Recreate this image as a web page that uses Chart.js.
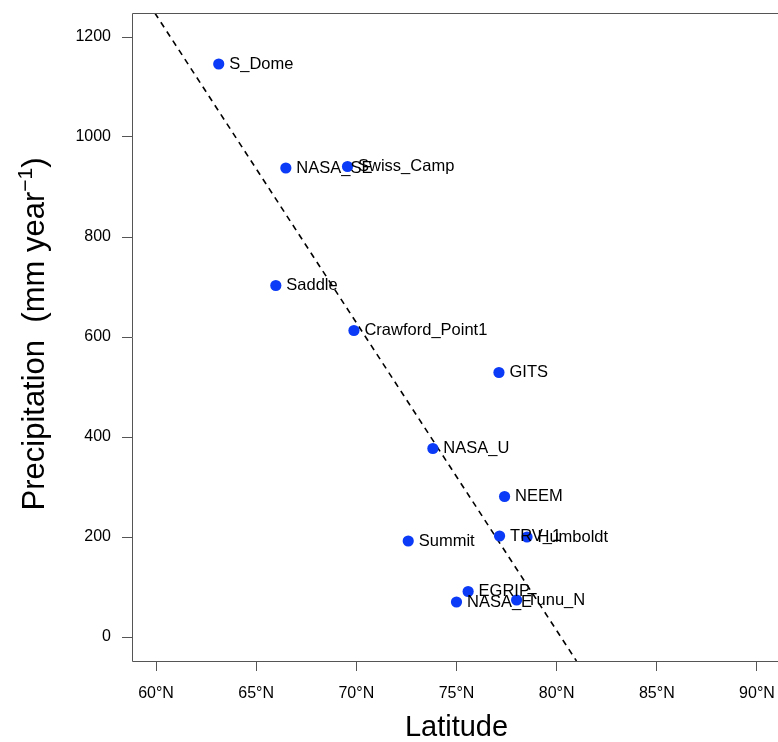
<!DOCTYPE html>
<html><head><meta charset="utf-8">
<script src="https://cdn.jsdelivr.net/npm/chart.js@4"></script>
<style>
html,body{margin:0;padding:0;overflow:hidden;background:#fff;width:778px;height:742px}
#wrap{position:absolute;left:0;top:0;width:800px;height:742px}
</style>
</head><body><div id="wrap"><canvas id="c" width="800" height="742"></canvas></div>
<script>
const stations = ["S_Dome","NASA_SE","Swiss_Camp","Saddle","Crawford_Point1","GITS","NASA_U","NEEM","Summit","TRV_1","Humboldt","EGRIP","NASA_E","Tunu_N"];
const latitudes = [63.13, 66.48, 69.56, 65.98, 69.88, 77.12, 73.82, 77.40, 72.59, 77.15, 78.52, 75.58, 75.00, 78.00];
const precipitation = [1146, 938, 941, 703, 613, 529, 377, 281, 192, 202, 200, 91, 70, 74];
const fitLatitudes = [59.94, 80.99];
const fitPrecipitation = [1248, -48];
const xTickValues = [60, 65, 70, 75, 80, 85, 90];
const yTickValues = [0, 200, 400, 600, 800, 1000, 1200];

const FONT = "'Liberation Sans', Arial, Helvetica, sans-serif";
const AXIS_GREY = '#555555';

const framePlugin = {
  id: 'frame',
  afterDraw(chart) {
    const {ctx, chartArea: a} = chart;
    ctx.save();
    ctx.strokeStyle = AXIS_GREY;
    ctx.lineWidth = 1;
    const l = Math.round(a.left) + 0.5, t = Math.round(a.top) + 0.5;
    const r = Math.round(a.right) + 0.5, b = Math.round(a.bottom) + 0.5;
    ctx.beginPath();
    ctx.moveTo(l, t); ctx.lineTo(r, t); ctx.lineTo(r, b); ctx.lineTo(l, b); ctx.closePath();
    ctx.stroke();
    // y axis title with superscript
    const cy = (a.top + a.bottom) / 2 - 3;
    ctx.translate(44, cy);
    ctx.rotate(-Math.PI / 2);
    ctx.fillStyle = '#000';
    ctx.textBaseline = 'alphabetic';
    ctx.textAlign = 'left';
    const big = "31px " + FONT, small = "21px " + FONT;
    const p1 = "Precipitation  (mm year", sup = "\u22121", p3 = ")";
    ctx.font = big; const w1 = ctx.measureText(p1).width, w3 = ctx.measureText(p3).width;
    ctx.font = small; const w2 = ctx.measureText(sup).width;
    let x = -(w1 + w2 + w3) / 2;
    ctx.font = big; ctx.fillText(p1, x, 0); x += w1;
    ctx.font = small; ctx.fillText(sup, x, -12); x += w2;
    ctx.font = big; ctx.fillText(p3, x, 0);
    ctx.restore();
  }
};

const labelPlugin = {
  id: 'pointLabels',
  afterDatasetsDraw(chart) {
    const {ctx} = chart;
    const meta = chart.getDatasetMeta(0);
    ctx.save();
    ctx.font = "16.5px " + FONT;
    ctx.fillStyle = '#000';
    ctx.textBaseline = 'middle';
    ctx.textAlign = 'left';
    meta.data.forEach((pt, i) => {
      ctx.fillText(stations[i], pt.x + 10.5, pt.y);
    });
    ctx.restore();
  }
};

new Chart(document.getElementById('c'), {
  type: 'scatter',
  data: {
    datasets: [
      {
        label: 'Stations',
        order: 0,
        data: latitudes.map((v, i) => ({x: v, y: precipitation[i]})),
        backgroundColor: '#0b3bf6',
        borderWidth: 0,
        pointRadius: 5.6,
        pointHoverRadius: 5.6
      },
      {
        type: 'line',
        label: 'Fit',
        order: 1,
        data: fitLatitudes.map((v, i) => ({x: v, y: fitPrecipitation[i]})),
        borderColor: '#000',
        borderWidth: 1.6,
        borderDash: [6, 5],
        pointRadius: 0,
        fill: false
      }
    ]
  },
  options: {
    responsive: false,
    animation: false,
    events: [],
    layout: {padding: {left: 0, right: 19, top: 13, bottom: 0}},
    plugins: {legend: {display: false}, tooltip: {enabled: false}},
    scales: {
      x: {
        type: 'linear',
        position: 'bottom',
        min: 58.8, max: 91.2,
        afterBuildTicks: s => { s.ticks = xTickValues.map(v => ({value: v})); },
        afterFit: s => { s.height = 81; s.paddingLeft = 0; s.paddingRight = 0; },
        border: {display: false},
        grid: {drawOnChartArea: false, drawTicks: true, tickLength: 10, tickColor: AXIS_GREY, tickWidth: 1},
        ticks: {font: {family: FONT, size: 16}, color: '#000', padding: 13, maxRotation: 0, autoSkip: false,
                callback: v => v + '\u00B0N'},
        title: {display: true, text: 'Latitude', color: '#000', font: {family: FONT, size: 29, lineHeight: 1}, padding: {top: 0, bottom: 0}}
      },
      y: {
        type: 'linear',
        min: -48, max: 1248,
        afterBuildTicks: s => { s.ticks = yTickValues.map(v => ({value: v})); },
        afterFit: s => { s.width = 132; s.paddingTop = 0; s.paddingBottom = 0; },
        border: {display: false},
        grid: {drawOnChartArea: false, drawTicks: true, tickLength: 10, tickColor: AXIS_GREY, tickWidth: 1},
        ticks: {font: {family: FONT, size: 16}, color: '#000', padding: 11, autoSkip: false,
                callback: v => String(v)},
        title: {display: false}
      }
    }
  },
  plugins: [framePlugin, labelPlugin]
});
</script>
</body></html>
